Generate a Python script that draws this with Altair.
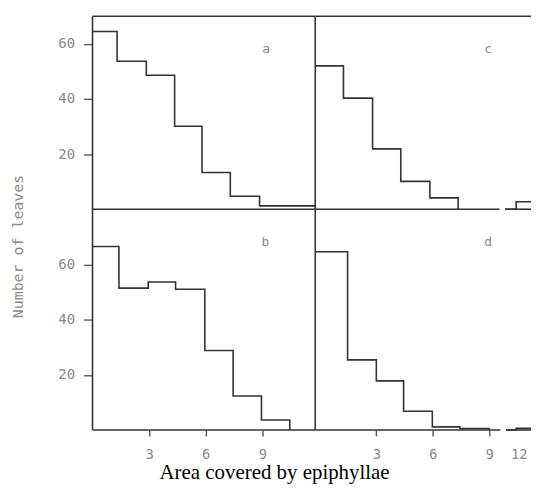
import altair as alt
import pandas as pd

# ---- data (x: area covered, y: number of leaves) ----
# panel a (top-left)
a_edges = [0.0, 1.3, 2.85, 4.35, 5.8, 7.3, 8.85, 11.8]
a_counts = [64.5, 53.7, 48.6, 30.1, 13.3, 4.7, 1.2]
a_end = 1.2
# panel b (bottom-left)
b_edges = [0.0, 1.4, 2.95, 4.4, 5.95, 7.45, 8.95, 10.45]
b_counts = [66.5, 51.4, 53.6, 51.0, 28.8, 12.3, 3.6]
b_end = 0.0
# panel c (top-right), main part and part after the axis break
c_edges = [-0.25, 1.25, 2.8, 4.3, 5.85, 7.35]
c_counts = [52.0, 40.3, 21.9, 10.1, 4.1]
c_end = 0.0
c_tail_edges = [9.85, 10.44, 11.23]
c_tail_counts = [0.0, 2.7]
c_tail_end = 2.7
# panel d (bottom-right)
d_edges = [-0.25, 1.47, 3.0, 4.45, 5.98, 7.44, 9.0]
d_counts = [64.6, 25.4, 17.8, 6.8, 1.1, 0.5]
d_end = 0.0
d_tail_edges = [9.91, 10.44, 11.23]
d_tail_counts = [0.0, 0.6]
d_tail_end = 0.6

# axis domains / break
left_domain = [0.0, 11.8]
right_domain = [-0.25, 11.23]
top_domain = [0, 70]
bottom_domain = [0, 80]
break_c = [9.55, 9.85]
break_d = [9.6, 9.9]
x_ticks = [3, 6, 9]
x_tick_12 = 10.58
y_ticks = [20, 40, 60]

letters = ["a", "c", "b", "d"]
letter_x = [9.2, 8.95, 9.16, 8.95]
letter_y = [58, 58, 68.2, 68.2]

INK = "#333333"
GREY = "#8a8a8a"
LW = 1.6


def steps(parts):
    rows = []
    for seg, (edges, counts, end) in enumerate(parts):
        for e, c in zip(edges[:-1], counts):
            rows.append({"x": e, "y": c, "seg": seg})
        rows.append({"x": edges[-1], "y": end, "seg": seg})
    return pd.DataFrame(rows)


def rules(segs):
    return pd.DataFrame([{"x": a, "x2": b, "y": c, "y2": d} for a, b, c, d in segs])


def panel(parts, frame, xdom, ydom, w, h, xaxis, yaxis, li):
    xs = alt.Scale(domain=xdom, nice=False, zero=False)
    ys = alt.Scale(domain=ydom, nice=False, zero=False)
    X = alt.X("x:Q", scale=xs, axis=xaxis)
    Y = alt.Y("y:Q", scale=ys, axis=yaxis)
    line = alt.Chart(steps(parts)).mark_line(
        interpolate="step-after", color=INK, strokeWidth=LW
    ).encode(x=X, y=Y, detail="seg:N")
    fr = alt.Chart(rules(frame)).mark_rule(color=INK, strokeWidth=LW).encode(
        x=X, x2="x2:Q", y=Y, y2="y2:Q"
    )
    txt = alt.Chart(
        pd.DataFrame({"x": [letter_x[li]], "y": [letter_y[li]], "t": [letters[li]]})
    ).mark_text(font="DejaVu Sans Mono", fontSize=13, color=GREY).encode(
        x=X, y=Y, text="t:N"
    )
    return alt.layer(fr, line, txt).properties(width=w, height=h)


ylab = dict(
    values=y_ticks, domain=False, grid=False, tickSize=9, tickWidth=1.4,
    tickColor="#555555", labelFont="DejaVu Sans Mono", labelFontSize=14,
    labelColor=GREY, labelPadding=9,
)
xlab = dict(
    domain=False, grid=False, tickSize=6, tickWidth=1.4, tickColor="#555555",
    labelFont="DejaVu Sans Mono", labelFontSize=14, labelColor=GREY,
    labelPadding=12, title=None,
)

W_L, W_R, H_T, H_B = 224, 217, 194, 222

pa = panel(
    [(a_edges, a_counts, a_end)],
    [(0, 11.8, 70, 70), (0, 0, 0, 70), (11.8, 11.8, 0, 70), (0, 11.8, 0, 0)],
    left_domain, top_domain, W_L, H_T, None, alt.Axis(title=None, **ylab), 0,
)
pc = panel(
    [(c_edges, c_counts, c_end), (c_tail_edges, c_tail_counts, c_tail_end)],
    [(-0.25, 11.23, 70, 70), (-0.25, break_c[0], 0, 0), (break_c[1], 11.23, 0, 0)],
    right_domain, top_domain, W_R, H_T, None, None, 1,
)
pb = panel(
    [(b_edges, b_counts, b_end)],
    [(0, 0, 0, 80), (11.8, 11.8, 0, 80), (0, 11.8, 0, 0)],
    left_domain, bottom_domain, W_L, H_B,
    alt.Axis(values=x_ticks, **xlab),
    alt.Axis(
        title="Number of leaves", titleX=-75, titleY=37, titleBaseline="middle",
        titleAngle=270, titleFont="DejaVu Sans Mono", titleFontSize=15,
        titleFontWeight="normal", titleColor=GREY, **ylab
    ),
    2,
)
pd_ = panel(
    [(d_edges, d_counts, d_end), (d_tail_edges, d_tail_counts, d_tail_end)],
    [(-0.25, break_d[0], 0, 0), (break_d[1], 11.23, 0, 0)],
    right_domain, bottom_domain, W_R, H_B,
    alt.Axis(
        values=x_ticks + [x_tick_12],
        labelExpr="datum.value > 10 ? '12' : datum.label",
        tickOpacity={"condition": {"test": "datum.value > 10", "value": 0}, "value": 1},
        **xlab
    ),
    None, 3,
)

chart = alt.concat(pa, pc, pb, pd_, columns=2, spacing=0, bounds="flush").properties(
    title=alt.TitleParams(
        "Area covered by epiphyllae", orient="bottom", anchor="middle",
        font="Liberation Serif", fontSize=21, fontWeight="normal", color="black",
        dx=2, offset=0,
    ),
    padding={"left": 2, "top": 6, "right": 0, "bottom": 0},
).configure_view(stroke=None)

chart.save("out.html", embed_options={"renderer": "svg", "actions": False})
